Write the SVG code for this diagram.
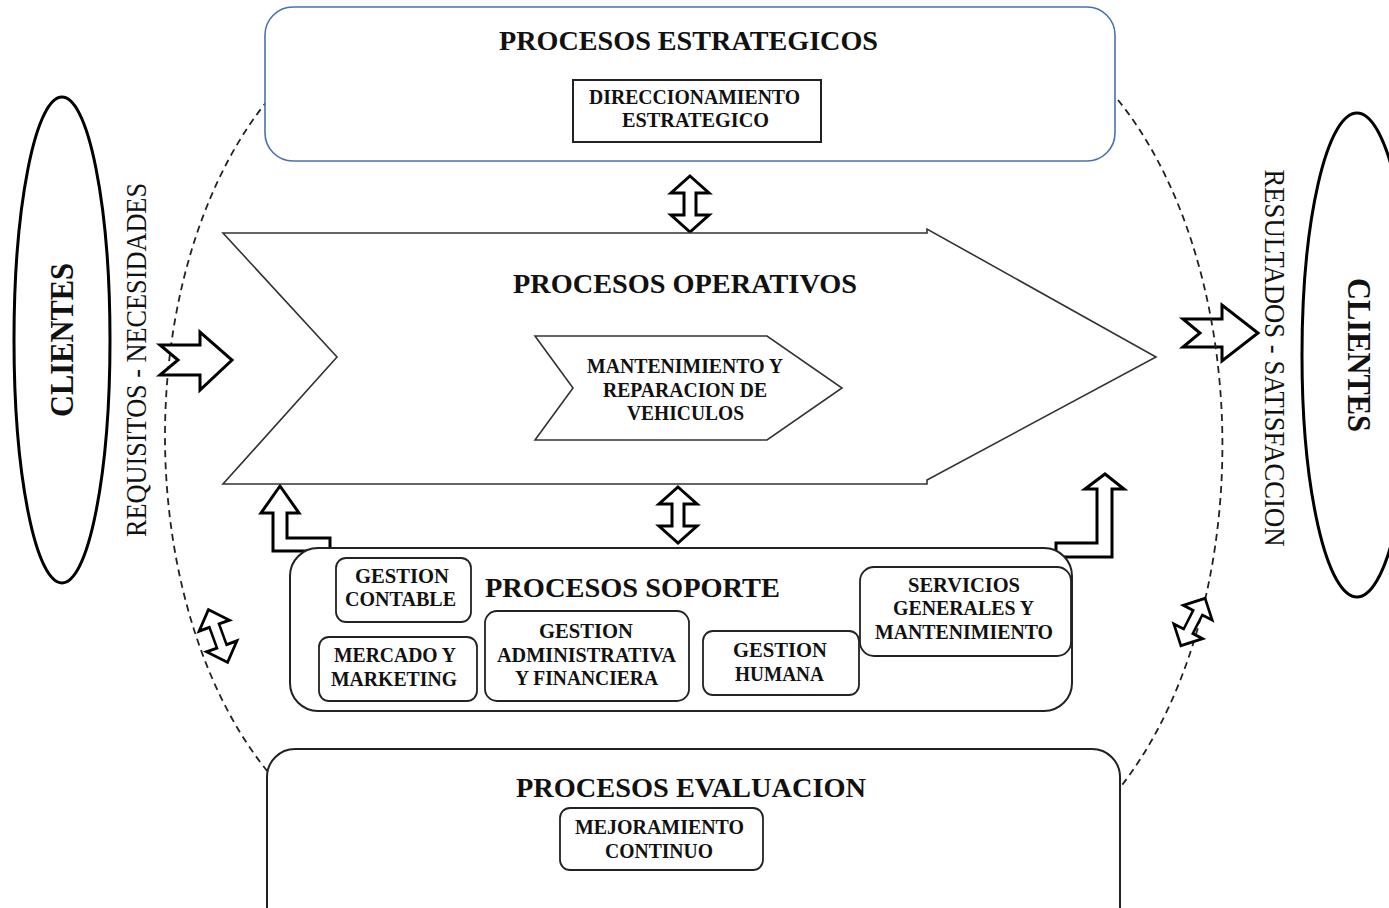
<svg xmlns="http://www.w3.org/2000/svg" xmlns:xlink="http://www.w3.org/1999/xlink" width="1389" height="908" viewBox="0 0 1389 908">
<style>
  text { font-family: "Liberation Serif", "Times New Roman", serif; fill: #111; }
  .title { font-size: 28px; font-weight: bold; text-anchor: middle; }
  .small { font-size: 20px; font-weight: bold; text-anchor: middle; }
  .vert { font-size: 29px; text-anchor: middle; }
  .cli { font-size: 34px; font-weight: bold; text-anchor: middle; }
  .box { fill: #fff; stroke: #222; stroke-width: 2; }
  .sub { fill: #fff; stroke: #222; stroke-width: 1.8; }
  .blk { fill: #fff; stroke: #000; stroke-width: 3; stroke-linejoin: miter; }
  .dash { fill: none; stroke: #222; stroke-width: 1.8; stroke-dasharray: 7 5; }
  .ell { fill: none; stroke: #000; stroke-width: 3; }
</style>
<defs>
  <path id="dbl" d="M0,-28 L19,-11 L6,-11 L6,11 L19,11 L0,28 L-19,11 L-6,11 L-6,-11 L-19,-11 Z"/>
</defs>
<rect width="1389" height="908" fill="#fff"/>

<g id="connectors">
  <path class="dash" d="M268,100 A257.5 420 0 0 0 268,772"/>
  <polygon class="blk" points="160,345 200,345 200,332 232,360 200,390 200,375 160,375 178,360"/>
  <polygon class="blk" points="1183,319 1222,319 1222,305 1258,333 1222,361 1222,347 1183,347 1200,333"/>
  <path class="dash" d="M1118,100 A259 430 0 0 1 1122,785"/>
  <use href="#dbl" class="blk" transform="translate(690,204)"/>
  <use href="#dbl" class="blk" transform="translate(678,515)"/>
  <use href="#dbl" class="blk" transform="translate(218,636) rotate(-20) scale(0.85,1)"/>
  <use href="#dbl" class="blk" transform="translate(1193,622) rotate(27) scale(0.85,0.95)"/>
  <polygon class="blk" points="280,486 299,513 287,513 287,538 330,538 330,551 273,551 273,513 261,513"/>
  <polygon class="blk" points="1105,474 1124,489 1112,489 1112,557 1056,557 1056,543 1097,543 1097,489 1085,489"/>
</g>

<g id="clientes-izq">
  <ellipse class="ell" cx="62" cy="340" rx="48" ry="243"/>
  <text class="cli" transform="translate(73,340) rotate(-90)" textLength="154" lengthAdjust="spacingAndGlyphs">CLIENTES</text>
  <text class="vert" transform="translate(146,360) rotate(-90)" textLength="354" lengthAdjust="spacingAndGlyphs">REQUISITOS - NECESIDADES</text>
</g>

<g id="clientes-der">
  <ellipse class="ell" cx="1357" cy="355" rx="55" ry="242"/>
  <text class="cli" transform="translate(1348,355) rotate(90)" textLength="154" lengthAdjust="spacingAndGlyphs">CLIENTES</text>
  <text class="vert" transform="translate(1265,358) rotate(90)" textLength="377" lengthAdjust="spacingAndGlyphs">RESULTADOS - SATISFACCION</text>
</g>

<g id="estrategicos">
  <rect x="265" y="7" width="850" height="154" rx="28" fill="#fff" stroke="#4a72b0" stroke-width="1.6"/>
  <text class="title" x="688.5" y="50" textLength="379" lengthAdjust="spacingAndGlyphs">PROCESOS ESTRATEGICOS</text>
  <rect x="573" y="80" width="248" height="62" fill="#fff" stroke="#222" stroke-width="2"/>
  <text class="small" x="694.5" y="104" textLength="211" lengthAdjust="spacingAndGlyphs">DIRECCIONAMIENTO</text>
  <text class="small" x="695.5" y="127" textLength="147" lengthAdjust="spacingAndGlyphs">ESTRATEGICO</text>
</g>

<g id="operativos">
  <polygon points="223,233 927,233 927,229 1156,357 927,480 927,484 223,484 337,357" fill="#fff" stroke="#333" stroke-width="1.6"/>
  <text class="title" x="685" y="293" textLength="344" lengthAdjust="spacingAndGlyphs">PROCESOS OPERATIVOS</text>
  <g id="mantenimiento">
    <polygon points="535,336 767,336 842,388 767,440 535,440 573,388" fill="#fff" stroke="#333" stroke-width="1.6"/>
    <text class="small" x="685" y="373" textLength="196" lengthAdjust="spacingAndGlyphs">MANTENIMIENTO Y</text>
    <text class="small" x="685" y="397" textLength="164" lengthAdjust="spacingAndGlyphs">REPARACION DE</text>
    <text class="small" x="685.5" y="420" textLength="117" lengthAdjust="spacingAndGlyphs">VEHICULOS</text>
  </g>
</g>

<g id="soporte">
  <rect class="box" x="290" y="548" width="782" height="163" rx="28"/>
  <text class="title" x="632.5" y="597" textLength="295" lengthAdjust="spacingAndGlyphs">PROCESOS SOPORTE</text>
  <g id="gestion-contable">
    <rect class="sub" x="336" y="558" width="135" height="64" rx="10"/>
    <text class="small" x="402" y="583" textLength="94" lengthAdjust="spacingAndGlyphs">GESTION</text>
    <text class="small" x="400.5" y="606" textLength="111" lengthAdjust="spacingAndGlyphs">CONTABLE</text>
  </g>
  <g id="mercado">
    <rect class="sub" x="319" y="637" width="158" height="64" rx="10"/>
    <text class="small" x="395" y="662" textLength="122" lengthAdjust="spacingAndGlyphs">MERCADO Y</text>
    <text class="small" x="394" y="686" textLength="126" lengthAdjust="spacingAndGlyphs">MARKETING</text>
  </g>
  <g id="gestion-admin">
    <rect class="sub" x="485" y="611" width="204" height="90" rx="12"/>
    <text class="small" x="586" y="638" textLength="94" lengthAdjust="spacingAndGlyphs">GESTION</text>
    <text class="small" x="586.5" y="662" textLength="179" lengthAdjust="spacingAndGlyphs">ADMINISTRATIVA</text>
    <text class="small" x="586.5" y="685" textLength="143" lengthAdjust="spacingAndGlyphs">Y FINANCIERA</text>
  </g>
  <g id="gestion-humana">
    <rect class="sub" x="703" y="631" width="156" height="64" rx="10"/>
    <text class="small" x="780" y="657" textLength="94" lengthAdjust="spacingAndGlyphs">GESTION</text>
    <text class="small" x="779.5" y="681" textLength="89" lengthAdjust="spacingAndGlyphs">HUMANA</text>
  </g>
  <g id="servicios">
    <rect class="sub" x="860" y="567" width="211" height="89" rx="14"/>
    <text class="small" x="964" y="592" textLength="112" lengthAdjust="spacingAndGlyphs">SERVICIOS</text>
    <text class="small" x="963.5" y="615" textLength="141" lengthAdjust="spacingAndGlyphs">GENERALES Y</text>
    <text class="small" x="964" y="639" textLength="178" lengthAdjust="spacingAndGlyphs">MANTENIMIENTO</text>
  </g>
</g>

<g id="evaluacion">
  <rect class="box" x="267" y="749" width="853" height="190" rx="28"/>
  <text class="title" x="691" y="797" textLength="350" lengthAdjust="spacingAndGlyphs">PROCESOS EVALUACION</text>
  <g id="mejoramiento">
    <rect class="sub" x="560" y="808" width="203" height="62" rx="10"/>
    <text class="small" x="659.5" y="834" textLength="169" lengthAdjust="spacingAndGlyphs">MEJORAMIENTO</text>
    <text class="small" x="659" y="858" textLength="108" lengthAdjust="spacingAndGlyphs">CONTINUO</text>
  </g>
</g>
</svg>
